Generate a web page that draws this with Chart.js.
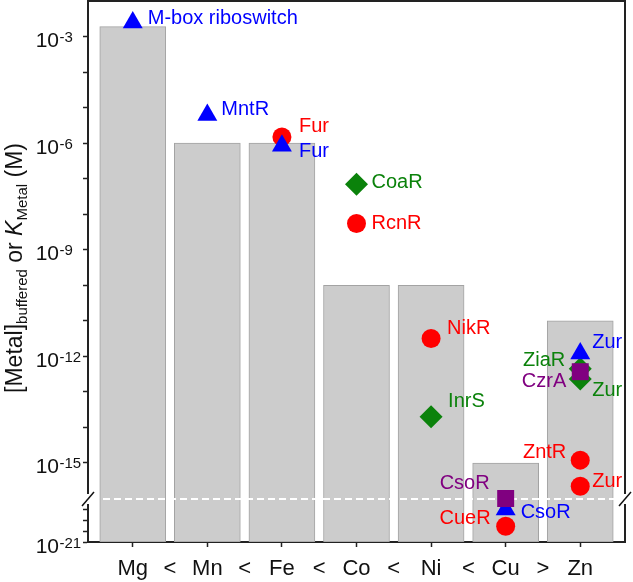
<!DOCTYPE html>
<html>
<head>
<meta charset="utf-8">
<script src="https://cdn.jsdelivr.net/npm/chart.js@4.4.0/dist/chart.umd.min.js"></script>
<style>
    html, body { margin: 0; padding: 0; background: #ffffff; }
    #wrap { width: 633px; height: 582px; }
</style>
</head>
<body>
<div id="wrap"><canvas id="metalChart" width="633" height="582"></canvas></div>
<script>
// metals along the x axis, and the relation printed between neighbours
const metals = ['Mg', 'Mn', 'Fe', 'Co', 'Ni', 'Cu', 'Zn'];
const relations = ['<', '<', '<', '<', '<', '>'];

// buffered metal concentration (M) -> grey bars
const bufferedConc = [1.9e-3, 1e-6, 1e-6, 1e-10, 1e-10, 1e-15, 1e-11];

// sensor K_Metal values (M), one set per marker shape
const triangleNames = ['M-box riboswitch', 'MntR', 'Fur', 'CsoR', 'Zur'];
const triangleMetals = ['Mg', 'Mn', 'Fe', 'Cu', 'Zn'];
const triangleValues = [2.5e-3, 6.2e-6, 8.5e-7, 1e-18, 1.2e-12];

const circleNames = ['Fur', 'RcnR', 'NikR', 'CueR', 'ZntR', 'Zur'];
const circleMetals = ['Fe', 'Co', 'Ni', 'Cu', 'Zn', 'Zn'];
const circleValues = [1.5e-6, 5.5e-9, 3.2e-12, 2.8e-20, 1.2e-15, 2.2e-16];

const diamondNames = ['CoaR', 'InrS', 'ZiaR', 'Zur'];
const diamondMetals = ['Co', 'Ni', 'Zn', 'Zn'];
const diamondValues = [7e-8, 2e-14, 4.5e-13, 2.3e-13];

const squareNames = ['CsoR', 'CzrA'];
const squareMetals = ['Cu', 'Zn'];
const squareValues = [1e-16, 3.7e-13];

// y axis decades
const yLabelledExps = [-3, -6, -9, -12, -15, -21];
const yMinorExps = [-4, -5, -7, -8, -10, -11, -13, -14, -18, -19, -20];

// where each name sits next to its marker: [dx, dy], negative dx = text to the left
const triangleLabelPos = [[15, -4], [14, -6], [17, 6], [15, 3], [12, -11]];
const circleLabelPos = [[17, -10], [15, 0], [16, -10], [-15, -8], [-14, -8], [12, -5]];
const diamondLabelPos = [[15, -2], [17, -15], [-15, -8], [12, 11]];
const squareLabelPos = [[-16, -15], [-14, 10]];

const BLUE = '#0000ff';
const RED = '#ff0000';
const GREEN = '#0b820b';
const PURPLE = '#800080';
const FONT = "'Liberation Sans', Arial, sans-serif";

// broken log axis: everything below 1e-17 is squeezed under the break at 1e-16
const BREAK_HI = -16;
const BREAK_LO = -17;
const LOW_SQUEEZE = 0.306;
function toT(v) {
    const L = Math.log10(v);
    return L > -16.5 ? L : BREAK_HI + (L - BREAK_LO) * LOW_SQUEEZE;
}

const yMin = toT(1e-21);
const yMax = toT(1e-2);

const xTickLabels = [];
metals.forEach((m, i) => {
    xTickLabels.push(m);
    if (i < relations.length) xTickLabels.push(relations[i]);
});

function points(metalList, values) {
    return values.map((v, i) => ({ x: metals.indexOf(metalList[i]), y: toT(v) }));
}

const labelGroups = [
    { names: circleNames, metals: circleMetals, values: circleValues, pos: circleLabelPos, color: RED },
    { names: diamondNames, metals: diamondMetals, values: diamondValues, pos: diamondLabelPos, color: GREEN },
    { names: triangleNames, metals: triangleMetals, values: triangleValues, pos: triangleLabelPos, color: BLUE },
    { names: squareNames, metals: squareMetals, values: squareValues, pos: squareLabelPos, color: PURPLE }
];

const annotatePlugin = {
    id: 'annotate',
    afterDatasetDraw(chart, args) {
        if (args.index !== 0) return; // only right after the bars
        const { ctx, chartArea } = chart;
        const y = chart.scales.y.getPixelForValue(BREAK_HI) + 0.5;
        ctx.save();
        ctx.strokeStyle = '#ffffff';
        ctx.lineWidth = 2;
        ctx.setLineDash([7, 4]);
        ctx.beginPath();
        ctx.moveTo(chartArea.left + 4, y);
        ctx.lineTo(chartArea.right - 6, y);
        ctx.stroke();
        ctx.restore();
    },
    afterDraw(chart) {
        const { ctx, chartArea } = chart;
        const xs = chart.scales.x;
        const ys = chart.scales.y;
        ctx.save();

        // frame: top and right
        ctx.strokeStyle = '#222222';
        ctx.lineWidth = 2;
        ctx.beginPath();
        ctx.moveTo(chartArea.left - 1, chartArea.top);
        ctx.lineTo(chartArea.right, chartArea.top);
        ctx.lineTo(chartArea.right, chartArea.bottom);
        ctx.stroke();

        // axis break marks
        const by = ys.getPixelForValue(BREAK_HI) + 0.5;
        ctx.fillStyle = '#ffffff';
        ctx.fillRect(chartArea.left - 3, by - 5, 6, 10);
        ctx.fillRect(chartArea.right - 3, by - 5, 6, 10);
        ctx.strokeStyle = '#111111';
        ctx.lineWidth = 1.5;
        [chartArea.left, chartArea.right].forEach(x0 => {
            ctx.beginPath();
            ctx.moveTo(x0 - 6, by + 7);
            ctx.lineTo(x0 + 6, by - 7);
            ctx.stroke();
        });

        // y tick labels with superscripts
        ctx.fillStyle = '#111111';
        yLabelledExps.forEach(e => {
            const py = ys.getPixelForValue(toT(Math.pow(10, e)));
            ctx.textBaseline = 'alphabetic';
            ctx.font = '21px ' + FONT;
            ctx.textAlign = 'right';
            ctx.fillText('10', 59, py + 10.5);
            ctx.font = '15px ' + FONT;
            ctx.textAlign = 'left';
            ctx.fillText(String(e), 59.5, py + 5.5);
        });

        // y axis title
        const parts = [
            { text: '[Metal]', font: '23px ' + FONT, dy: 0 },
            { text: 'buffered', font: '15px ' + FONT, dy: 5 },
            { text: ' or ', font: '23px ' + FONT, dy: 0 },
            { text: 'K', font: 'italic 23px ' + FONT, dy: 0 },
            { text: 'Metal', font: '15px ' + FONT, dy: 5 },
            { text: ' (M)', font: '23px ' + FONT, dy: 0 }
        ];
        let total = 0;
        parts.forEach(p => { ctx.font = p.font; p.w = ctx.measureText(p.text).width; total += p.w; });
        ctx.save();
        ctx.translate(22, 268);
        ctx.rotate(-Math.PI / 2);
        ctx.textAlign = 'left';
        ctx.textBaseline = 'alphabetic';
        let cx = -total / 2;
        parts.forEach(p => {
            ctx.font = p.font;
            ctx.fillText(p.text, cx, p.dy);
            cx += p.w;
        });
        ctx.restore();

        // sensor names
        ctx.font = '20px ' + FONT;
        ctx.textBaseline = 'middle';
        labelGroups.forEach(g => {
            ctx.fillStyle = g.color;
            g.names.forEach((name, i) => {
                const px = xs.getPixelForValue(metals.indexOf(g.metals[i]));
                const py = ys.getPixelForValue(toT(g.values[i]));
                const [dx, dy] = g.pos[i];
                ctx.textAlign = dx < 0 ? 'right' : 'left';
                ctx.fillText(name, px + dx, py + dy);
            });
        });
        ctx.restore();
    }
};

Chart.defaults.font.family = FONT;

const ctx = document.getElementById('metalChart').getContext('2d');
new Chart(ctx, {
    type: 'bar',
    data: {
        datasets: [
            {
                type: 'bar',
                data: bufferedConc.map((v, i) => ({ x: i, y: [yMin, toT(v)] })),
                backgroundColor: '#cccccc',
                borderColor: '#a3a3a3',
                borderWidth: 1,
                borderSkipped: false,
                barThickness: 66,
                order: 10
            },
            {
                type: 'scatter',
                data: points(circleMetals, circleValues),
                pointStyle: 'circle',
                pointRadius: 9.5,
                backgroundColor: RED,
                borderWidth: 0,
                order: 4
            },
            {
                type: 'scatter',
                data: points(diamondMetals, diamondValues),
                pointStyle: 'rectRot',
                pointRadius: 11.5,
                backgroundColor: GREEN,
                borderWidth: 0,
                order: 3
            },
            {
                type: 'scatter',
                data: points(triangleMetals, triangleValues),
                pointStyle: 'triangle',
                pointRadius: 11.5,
                backgroundColor: BLUE,
                borderWidth: 0,
                order: 2
            },
            {
                type: 'scatter',
                data: points(squareMetals, squareValues),
                pointStyle: 'rect',
                pointRadius: 12,
                backgroundColor: PURPLE,
                borderWidth: 0,
                order: 1
            }
        ]
    },
    options: {
        responsive: false,
        animation: false,
        events: [],
        layout: { autoPadding: false, padding: { top: 1, right: 8, left: 0, bottom: 0 } },
        plugins: {
            legend: { display: false },
            tooltip: { enabled: false }
        },
        scales: {
            x: {
                type: 'linear',
                min: -0.6,
                max: 6.6,
                offset: false,
                bounds: 'data',
                grid: {
                    offset: false,
                    drawOnChartArea: false,
                    tickLength: 5,
                    tickWidth: 1.5,
                    tickColor: (c) => Number.isInteger(c.tick && c.tick.value) ? '#222222' : 'rgba(0,0,0,0)'
                },
                border: { display: true, color: '#222222', width: 2 },
                afterBuildTicks: (scale) => {
                    scale.ticks = xTickLabels.map((_, i) => ({ value: i / 2 }));
                },
                afterFit: (scale) => { scale.height = 40; },
                ticks: {
                    autoSkip: false,
                    maxRotation: 0,
                    padding: 9,
                    color: '#111111',
                    font: { size: 22 },
                    callback: (value) => xTickLabels[Math.round(value * 2)]
                }
            },
            y: {
                type: 'linear',
                min: yMin,
                max: yMax,
                bounds: 'data',
                grid: {
                    drawOnChartArea: false,
                    tickLength: 5,
                    tickWidth: 1.5,
                    tickColor: '#222222'
                },
                border: { display: true, color: '#222222', width: 2 },
                afterBuildTicks: (scale) => {
                    scale.ticks = yLabelledExps.concat(yMinorExps).map(e => ({ value: toT(Math.pow(10, e)) }));
                },
                afterFit: (scale) => { scale.width = 88; },
                ticks: { display: false }
            }
        }
    },
    plugins: [annotatePlugin]
});
</script>
</body>
</html>
